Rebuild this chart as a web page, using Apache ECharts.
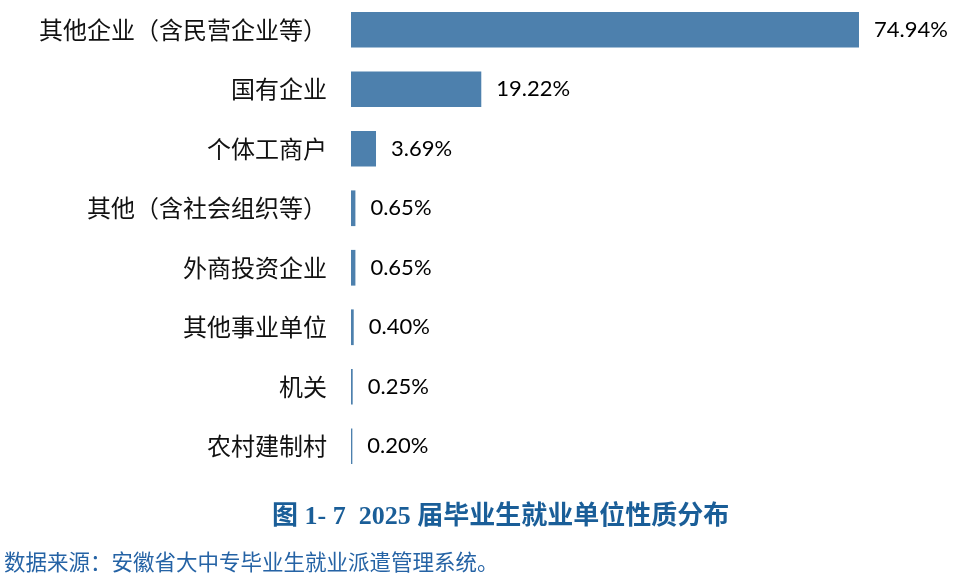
<!DOCTYPE html>
<html>
<head>
<meta charset="utf-8">
<script src="https://cdn.jsdelivr.net/npm/echarts@6/dist/echarts.min.js"></script>
<style>html,body{margin:0;padding:0;background:#fff;}#c{width:954px;height:584px;}</style>
</head>
<body>
<div id="c"></div>
<script>
const categories = ['其他企业（含民营企业等）','国有企业','个体工商户','其他（含社会组织等）','外商投资企业','其他事业单位','机关','农村建制村'];
const values = [74.94, 19.22, 3.69, 0.65, 0.65, 0.40, 0.25, 0.20];
const titleText = '图 1- 7  2025 届毕业生就业单位性质分布';
const sourceText = '数据来源：安徽省大中专毕业生就业派遣管理系统。';

const chart = echarts.init(document.getElementById('c'));
chart.setOption({
  backgroundColor: '#fff',
  animation: false,
  grid: { left: 351, width: 508.4, top: -4, height: 480, containLabel: false },
  xAxis: { type: 'value', min: 0, max: 75, show: false },
  yAxis: {
    type: 'category', data: categories, inverse: true,
    axisLine: { show: false }, axisTick: { show: false }, splitLine: { show: false },
    axisLabel: { margin: 24, color: '#111', fontSize: 24, fontFamily: 'Noto Sans CJK SC' }
  },
  series: [{
    type: 'bar', data: values, barCategoryGap: '40%',
    itemStyle: { color: '#4d80ad' },
    label: {
      show: true, position: 'right', distance: 15,
      color: '#000', fontSize: 22, fontFamily: 'Lato',
      formatter: p => p.value.toFixed(2) + '%'
    }
  }],
  graphic: [
    { type: 'text', left: 272, top: 504, style: { text: titleText, fill: '#1a5e98', font: 'bold 26px "Liberation Serif", "Noto Sans CJK SC"' } },
    { type: 'text', left: 4, top: 551, style: { text: sourceText, fill: '#2563a5', font: '21.5px "Noto Sans CJK SC"' } }
  ]
});
</script>
</body>
</html>
